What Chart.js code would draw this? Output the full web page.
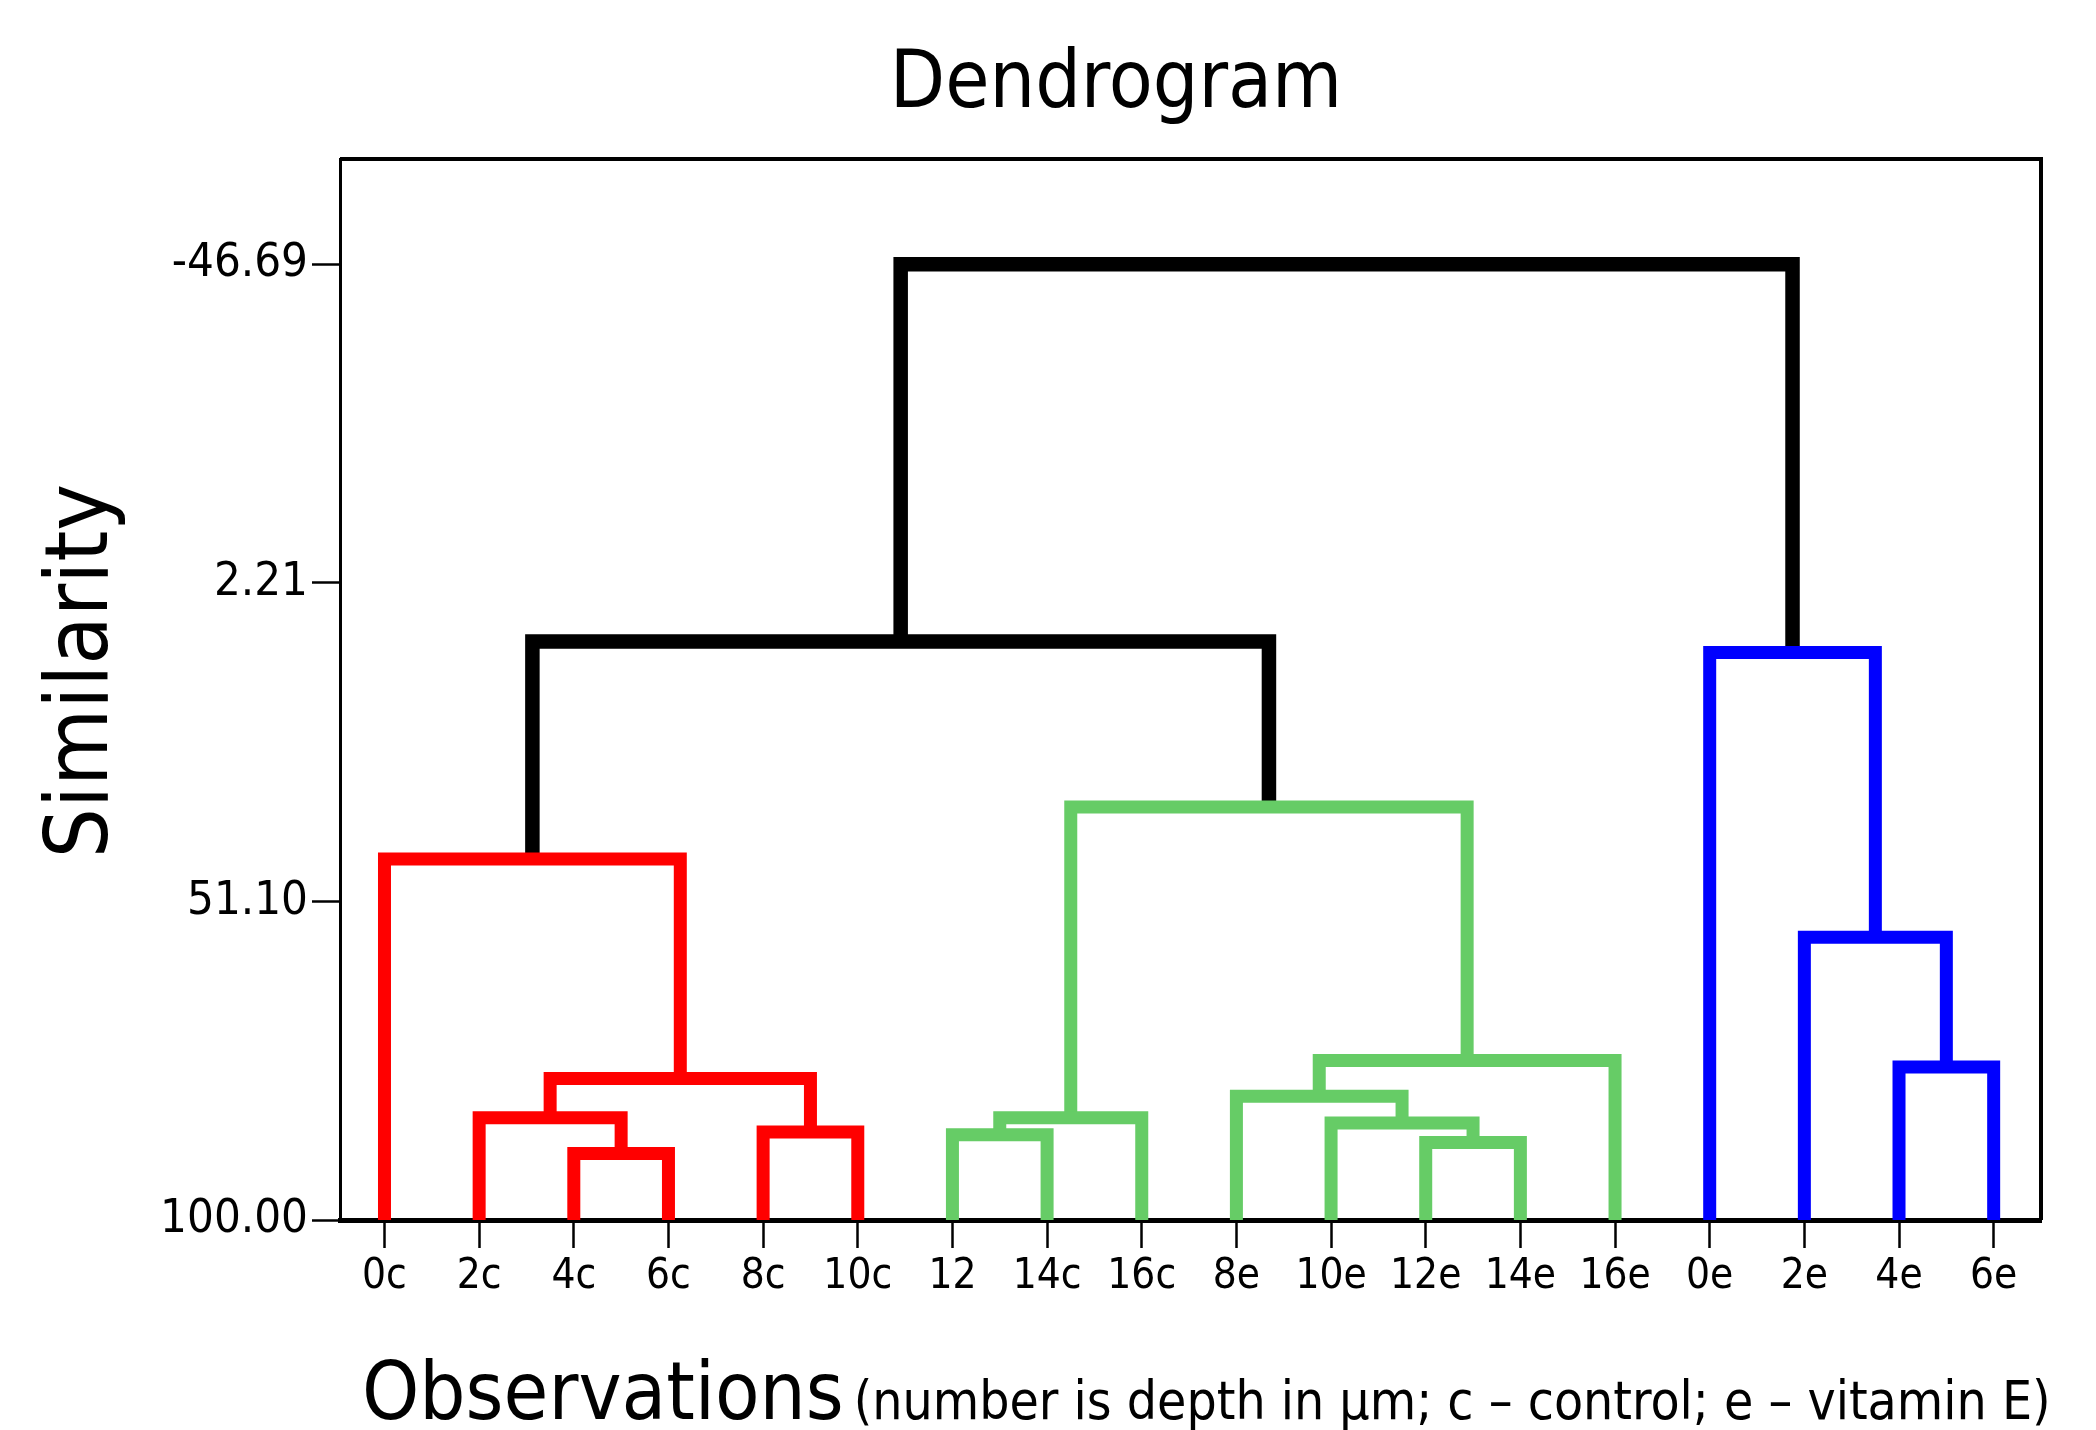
<!DOCTYPE html>
<html>
<head>
<meta charset="utf-8">
<script src="https://cdn.jsdelivr.net/npm/chart.js@4/dist/chart.umd.min.js"></script>
<style>
  html, body { margin: 0; padding: 0; background: #fff; }
  canvas { display: block; }
</style>
</head>
<body>
<canvas id="dendro" width="2096" height="1430"></canvas>
<script>
const FONT = "'DejaVu Sans Condensed', 'Liberation Sans Narrow', sans-serif";

// leaves, left to right
const leafLabels = ['0c', '2c', '4c', '6c', '8c', '10c', '12', '14c', '16c',
  '8e', '10e', '12e', '14e', '16e', '0e', '2e', '4e', '6e'];

// merges: children are leaf indices (0-17) or earlier merges (18 + merge index)
const mergeLeft   = [2, 1, 4, 19, 0, 6, 23, 11, 10, 9, 27, 24, 22, 16, 15, 14, 30];
const mergeRight  = [3, 18, 5, 20, 21, 7, 8, 12, 25, 26, 13, 28, 29, 17, 31, 32, 33];
const mergeHeight = [89.8, 84.3, 86.5, 78.3, 44.6, 86.9, 84.3, 88.1, 85.1, 81.0, 75.5, 36.6, 11.2, 76.5, 56.6, 12.9, -46.69];
const mergeColor  = ['red', 'red', 'red', 'red', 'red', 'green', 'green', 'green', 'green', 'green',
  'green', 'green', 'black', 'blue', 'blue', 'blue', 'black'];

const yTickValues = [-46.69, 2.21, 51.10, 100.00];

const colors = { red: '#ff0000', green: '#66cc66', blue: '#0000ff', black: '#000000' };

// position and height of every node
const nodeX = leafLabels.map((_, i) => i);
const nodeH = leafLabels.map(() => 100);
const datasets = [];
mergeLeft.forEach((l, i) => {
  const r = mergeRight[i];
  const h = mergeHeight[i];
  datasets.push({
    data: [
      { x: nodeX[l], y: nodeH[l] },
      { x: nodeX[l], y: h },
      { x: nodeX[r], y: h },
      { x: nodeX[r], y: nodeH[r] }
    ],
    borderColor: colors[mergeColor[i]],
    borderWidth: mergeColor[i] === 'black' ? 14.5 : 13,
    borderJoinStyle: 'miter',
    borderCapStyle: 'butt',
    pointRadius: 0,
    tension: 0,
    fill: false
  });
  nodeX.push((nodeX[l] + nodeX[r]) / 2);
  nodeH.push(h);
});

// box on top/right, titles
const framePlugin = {
  id: 'frame',
  afterDraw(chart) {
    const { ctx, chartArea: a } = chart;
    ctx.save();
    ctx.strokeStyle = '#000';
    ctx.lineWidth = 4;
    ctx.beginPath();
    ctx.moveTo(a.left, a.top);
    ctx.lineTo(a.right, a.top);
    ctx.lineTo(a.right, a.bottom);
    ctx.stroke();

    ctx.fillStyle = '#000';

    // chart title
    ctx.font = '80px ' + FONT;
    ctx.textAlign = 'center';
    ctx.textBaseline = 'alphabetic';
    ctx.fillText('Dendrogram', 1116, 107);

    // y axis title
    ctx.save();
    ctx.translate(84, 671);
    ctx.rotate(-Math.PI / 2);
    ctx.font = '88px ' + FONT;
    ctx.textBaseline = 'middle';
    ctx.fillText('Similarity', 0, 0);
    ctx.restore();

    // x axis title in two parts
    const y = a.bottom + 199;
    ctx.textAlign = 'left';
    ctx.textBaseline = 'alphabetic';
    ctx.font = '81px ' + FONT;
    const main = 'Observations';
    const x0 = a.left + 22;
    ctx.fillText(main, x0, y);
    const w = ctx.measureText(main).width;
    ctx.font = '53px ' + FONT;
    ctx.fillText('(number is depth in µm; c – control; e – vitamin E)', x0 + w + 10, y);
    ctx.restore();
  }
};

new Chart(document.getElementById('dendro'), {
  type: 'line',
  data: { datasets },
  plugins: [framePlugin],
  options: {
    responsive: false,
    animation: false,
    devicePixelRatio: 1,
    layout: { padding: { left: 0, right: 55, top: 159, bottom: 0 } },
    plugins: {
      legend: { display: false },
      tooltip: { enabled: false },
      title: { display: false }
    },
    scales: {
      x: {
        type: 'linear',
        min: -0.47,
        max: 17.5,
        afterBuildTicks: (scale) => { scale.ticks = leafLabels.map((_, i) => ({ value: i })); },
        afterFit: (scale) => { scale.height = 210; },
        ticks: {
          autoSkip: false,
          maxRotation: 0,
          color: '#000',
          padding: 4,
          font: { family: FONT, size: 42 },
          callback: (v) => leafLabels[v]
        },
        grid: { display: true, drawOnChartArea: false, drawTicks: true, tickLength: 28, tickWidth: 2.5, tickColor: '#000' },
        border: { display: true, color: '#000', width: 5 }
      },
      y: {
        type: 'linear',
        reverse: true,
        min: -62.85,
        max: 100,
        afterBuildTicks: (scale) => { scale.ticks = yTickValues.map(v => ({ value: v })); },
        afterFit: (scale) => { scale.width = 340; },
        ticks: {
          color: '#000',
          padding: 4,
          font: { family: FONT, size: 47 },
          callback: (v) => Number(v).toFixed(2)
        },
        grid: { display: true, drawOnChartArea: false, drawTicks: true, tickLength: 28, tickWidth: 2.5, tickColor: '#000' },
        border: { display: true, color: '#000', width: 3 }
      }
    }
  }
});
</script>
</body>
</html>
